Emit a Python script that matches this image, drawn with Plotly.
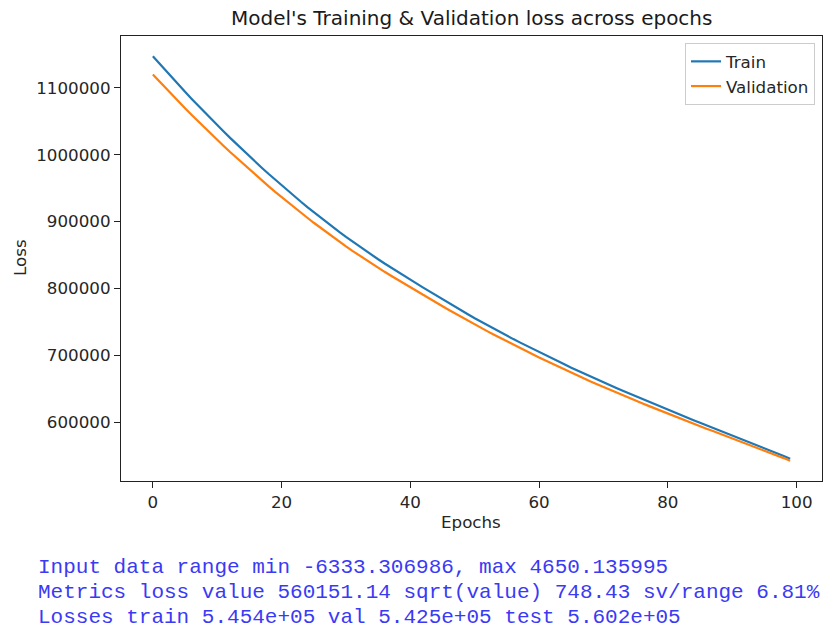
import plotly.graph_objects as go

# Loss per epoch (epochs 0..99)
epochs = list(range(100))

train_loss = [
    1147300, 1136410, 1125650, 1115020, 1104520, 1094150, 1083910, 1073800, 1063820, 1053970,
    1044250, 1034660, 1025200, 1015870, 1006670, 997600, 988660, 979850, 971170, 962620,
    954200, 945910, 937750, 929720, 921820, 914050, 906410, 898900, 891520, 884270,
    877150, 870250, 863460, 856780, 850210, 843750, 837400, 831160, 825030, 819010,
    813100, 807300, 801400, 795500, 789600, 783800, 778000, 772300, 766700, 761100,
    755600, 750200, 744900, 739600, 734500, 729400, 724400, 719500, 714600, 709700,
    704900, 700200, 695500, 690900, 686300, 681700, 677200, 672800, 668200, 663900,
    659600, 655400, 651200, 647100, 643000, 638900, 634900, 630900, 626900, 623000,
    619000, 615000, 610900, 607100, 603200, 599400, 595600, 591800, 588100, 584300,
    580600, 576900, 573200, 569500, 565700, 562000, 557900, 553800, 549600, 545400,
]

val_loss = [
    1119900, 1109610, 1099450, 1089420, 1079520, 1069650, 1059910, 1050300, 1040820, 1031470,
    1022250, 1013160, 1004200, 995370, 986670, 978000, 969460, 961050, 952770, 944620,
    936600, 928710, 920950, 913320, 905820, 898350, 891010, 883800, 876720, 869770,
    862950, 856350, 849860, 843480, 837210, 831050, 825000, 819060, 813230, 807510,
    801900, 796300, 790600, 784900, 779200, 773600, 768000, 762500, 757100, 751700,
    746400, 741200, 736000, 730900, 725900, 720900, 716000, 711200, 706400, 701600,
    696900, 692300, 687700, 683200, 678700, 674200, 669800, 665500, 661000, 656800,
    652600, 648500, 644400, 640400, 636400, 632400, 628500, 624600, 620700, 616900,
    613000, 609200, 605200, 601600, 597800, 594200, 590500, 586900, 583300, 579700,
    576100, 572600, 569000, 565500, 561800, 558300, 554400, 550500, 546500, 542500,
]

x_ticks = [0, 20, 40, 60, 80, 100]
y_ticks = [600000, 700000, 800000, 900000, 1000000, 1100000]

summary_lines = [
    "Input data range min -6333.306986, max 4650.135995",
    "Metrics loss value 560151.14 sqrt(value) 748.43 sv/range 6.81%",
    "Losses train 5.454e+05 val 5.425e+05 test 5.602e+05",
]

W, H = 823, 632
L, R, T, B = 121, 1, 36, 151
plot_w = W - L - R
plot_h = H - T - B

font_main = "DejaVu Sans"
tick_size = 16.7
ink = "#262626"

fig = go.Figure()
fig.add_trace(go.Scatter(x=epochs, y=train_loss, mode="lines", name="Train",
                         line=dict(color="#1f77b4", width=2.2)))
fig.add_trace(go.Scatter(x=epochs, y=val_loss, mode="lines", name="Validation",
                         line=dict(color="#ff7f0e", width=2.2)))

# matplotlib-style 5% padding around the data
xmin, xmax = min(epochs), max(epochs)
ymin = min(min(train_loss), min(val_loss))
ymax = max(max(train_loss), max(val_loss))
xpad = 0.05 * (xmax - xmin)
ypad = 0.05 * (ymax - ymin)

axis_common = dict(
    showgrid=False, zeroline=False, showline=True, linecolor="#222222", linewidth=1.2,
    mirror=True, ticks="outside", ticklen=6, tickwidth=1.2, tickcolor="#222222",
    tickfont=dict(family=font_main, size=tick_size, color=ink),
)

fig.update_xaxes(range=[xmin - xpad, xmax + xpad], tickvals=x_ticks,
                 ticktext=[str(v) for v in x_ticks], **axis_common)
fig.update_yaxes(range=[ymin - ypad, ymax + ypad], tickvals=y_ticks,
                 ticktext=[str(v) for v in y_ticks], **axis_common)


def px_x(px):
    return (px - L) / plot_w


def px_y(py):
    return (H - B - py) / plot_h


annotations = [
    dict(text="Model's Training & Validation loss across epochs", x=0.5, y=px_y(18),
         xanchor="center", yanchor="middle",
         font=dict(family=font_main, size=20, color="#1a1a1a")),
    dict(text="Epochs", x=px_x(471), y=px_y(522), xanchor="center", yanchor="middle",
         font=dict(family=font_main, size=tick_size, color=ink)),
    dict(text="Loss", x=px_x(20), y=px_y(258), xanchor="center", yanchor="middle",
         textangle=-90, font=dict(family=font_main, size=tick_size, color=ink)),
]
for i, line in enumerate(summary_lines):
    annotations.append(dict(
        text=line, x=px_x(36), y=px_y(567 + 25 * i), xanchor="left", yanchor="middle",
        font=dict(family="Liberation Mono", size=21, color="#3a3af5"),
    ))

for a in annotations:
    a.update(xref="paper", yref="paper", showarrow=False)

fig.update_layout(
    width=W, height=H,
    margin=dict(l=L, r=R, t=T, b=B),
    paper_bgcolor="white", plot_bgcolor="white",
    showlegend=True,
    legend=dict(x=px_x(815), y=px_y(43), xanchor="right", yanchor="top",
                bgcolor="rgba(255,255,255,0.85)", bordercolor="#cccccc", borderwidth=1,
                font=dict(family=font_main, size=tick_size, color=ink),
                tracegroupgap=2),
    annotations=annotations,
)

fig.write_html("out.html")
